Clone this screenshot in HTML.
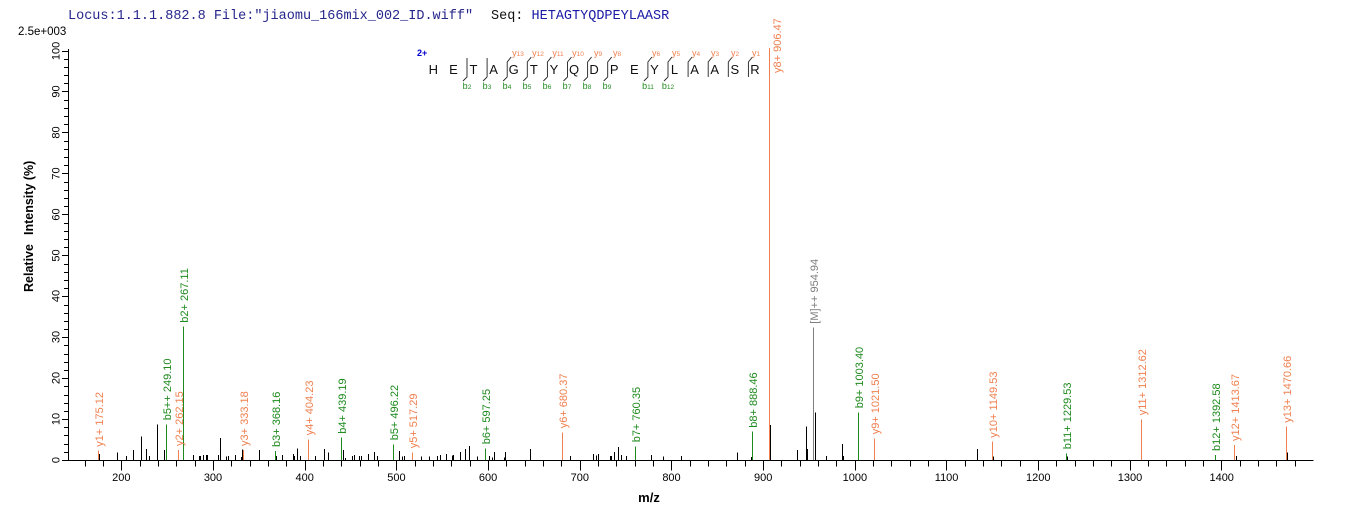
<!DOCTYPE html>
<html>
<head>
<meta charset="utf-8">
<style>
html,body{margin:0;padding:0;background:#fff;}
svg{display:block;}
text{font-family:"Liberation Sans",Arial,sans-serif;}
.mono{font-family:"Liberation Mono","Courier New",monospace;}
.lo{fill:#ef8050;font-size:11px;}
.lg{fill:#1e8a1e;font-size:11px;}
.lk{fill:#7f7f7f;font-size:11px;}
.tk{font-size:11px;fill:#000;}
.seq{font-size:13px;fill:#111;}
.ys{fill:#ef8050;font-size:9px;}
.bs{fill:#1e8a1e;font-size:9px;}
</style>
</head>
<body>
<svg width="1362" height="520" viewBox="0 0 1362 520" xmlns="http://www.w3.org/2000/svg">
<rect width="1362" height="520" fill="#fff"/>

<!-- header -->
<text class="mono" x="68" y="19" font-size="13.5" fill="#26268c">Locus:1.1.1.882.8 File:"jiaomu_166mix_002_ID.wiff"</text>
<text class="mono" x="491" y="19" font-size="13.5" fill="#111">Seq: <tspan fill="#1a1aa6">HETAGTYQDPEYLAASR</tspan></text>
<text x="18" y="35" font-size="11.5" fill="#000">2.5e+003</text>

<!-- axes -->
<path d="M68.5 49V460.5H1313.5" stroke="#000" stroke-width="1" fill="none" shape-rendering="crispEdges"/>

<!-- y ticks -->
<path stroke="#000" stroke-width="1" fill="none" shape-rendering="crispEdges" d="
M62 460.5H68 M64 452.5H68 M64 444.5H68 M64 435.5H68 M64 427.5H68 M62 419.5H68
M64 411.5H68 M64 403.5H68 M64 395.5H68 M64 386.5H68 M62 378.5H68
M64 370.5H68 M64 362.5H68 M64 354.5H68 M64 345.5H68 M62 337.5H68
M64 329.5H68 M64 321.5H68 M64 313.5H68 M64 305.5H68 M62 296.5H68
M64 288.5H68 M64 280.5H68 M64 272.5H68 M64 264.5H68 M62 255.5H68
M64 247.5H68 M64 239.5H68 M64 231.5H68 M64 223.5H68 M62 214.5H68
M64 206.5H68 M64 198.5H68 M64 190.5H68 M64 182.5H68 M62 173.5H68
M64 165.5H68 M64 157.5H68 M64 149.5H68 M64 141.5H68 M62 132.5H68
M64 124.5H68 M64 116.5H68 M64 108.5H68 M64 100.5H68 M62 91.5H68
M64 83.5H68 M64 75.5H68 M64 67.5H68 M64 59.5H68 M62 51.5H68"/>

<!-- y tick labels -->
<g class="tk" text-anchor="middle">
<text transform="translate(59.5,460) rotate(-90)">0</text>
<text transform="translate(59.5,419) rotate(-90)">10</text>
<text transform="translate(59.5,378) rotate(-90)">20</text>
<text transform="translate(59.5,337) rotate(-90)">30</text>
<text transform="translate(59.5,296) rotate(-90)">40</text>
<text transform="translate(59.5,255.5) rotate(-90)">50</text>
<text transform="translate(59.5,214.5) rotate(-90)">60</text>
<text transform="translate(59.5,173.5) rotate(-90)">70</text>
<text transform="translate(59.5,132.5) rotate(-90)">80</text>
<text transform="translate(59.5,91.5) rotate(-90)">90</text>
<text transform="translate(59.5,51) rotate(-90)">100</text>
</g>

<text transform="translate(33,292) rotate(-90)" font-size="12.5" font-weight="bold" fill="#000">Relative</text>
<text transform="translate(33,235) rotate(-90)" font-size="12.5" font-weight="bold" fill="#000">Intensity (%)</text>

<!-- x ticks -->
<path stroke="#000" stroke-width="1" fill="none" shape-rendering="crispEdges" d="
M85.5 460V466.5 M103.5 460V466.5 M121.5 460V470.5 M140.5 460V466.5 M158.5 460V466.5 M176.5 460V466.5 M195.5 460V466.5
M213.5 460V470.5 M231.5 460V466.5 M250.5 460V466.5 M268.5 460V466.5 M286.5 460V466.5
M305.5 460V470.5 M323.5 460V466.5 M341.5 460V466.5 M360.5 460V466.5 M378.5 460V466.5
M396.5 460V470.5 M415.5 460V466.5 M433.5 460V466.5 M451.5 460V466.5 M470.5 460V466.5
M488.5 460V470.5 M506.5 460V466.5 M525.5 460V466.5 M543.5 460V466.5 M561.5 460V466.5
M580.5 460V470.5 M598.5 460V466.5 M616.5 460V466.5 M635.5 460V466.5 M653.5 460V466.5
M671.5 460V470.5 M690.5 460V466.5 M708.5 460V466.5 M726.5 460V466.5 M745.5 460V466.5
M763.5 460V470.5 M781.5 460V466.5 M800.5 460V466.5 M818.5 460V466.5 M836.5 460V466.5
M855.5 460V470.5 M873.5 460V466.5 M891.5 460V466.5 M910.5 460V466.5 M928.5 460V466.5
M946.5 460V470.5 M965.5 460V466.5 M983.5 460V466.5 M1001.5 460V466.5 M1020.5 460V466.5
M1038.5 460V470.5 M1056.5 460V466.5 M1075.5 460V466.5 M1093.5 460V466.5 M1111.5 460V466.5
M1130.5 460V470.5 M1148.5 460V466.5 M1166.5 460V466.5 M1185.5 460V466.5 M1203.5 460V466.5
M1221.5 460V470.5 M1240.5 460V466.5 M1258.5 460V466.5 M1276.5 460V466.5 M1295.5 460V466.5"/>

<g class="tk" text-anchor="middle">
<text x="121.3" y="481">200</text>
<text x="213" y="481">300</text>
<text x="304.7" y="481">400</text>
<text x="396.4" y="481">500</text>
<text x="488.1" y="481">600</text>
<text x="579.8" y="481">700</text>
<text x="671.5" y="481">800</text>
<text x="763.2" y="481">900</text>
<text x="854.9" y="481">1000</text>
<text x="946.6" y="481">1100</text>
<text x="1038.3" y="481">1200</text>
<text x="1130" y="481">1300</text>
<text x="1221.7" y="481">1400</text>
</g>
<text x="649" y="502" text-anchor="middle" font-size="13" font-weight="bold" fill="#000">m/z</text>

<!-- unannotated peaks -->
<path stroke="#000" stroke-width="1" fill="none" shape-rendering="crispEdges" d="
M99.5 460V454 M117.5 460V452.7 M126.5 460V456 M133.5 460V450 M141.5 460V436.7 M146.5 460V449 M149.5 460V456 M157.5 460V424.7 M164.5 460V450
M193.5 460V455 M199.5 460V456 M200.5 460V456 M203.5 460V455 M206.5 460V455 M207.5 460V455 M218.5 460V455 M220.5 460V438 M226.5 460V456.7 M228.5 460V456
M235.5 460V455 M241.5 460V457 M242.5 460V449.3 M259.5 460V450 M276.5 460V456 M282.5 460V455 M293.5 460V454 M294.5 460V456 M297.5 460V448.3 M300.5 460V456
M315.5 460V456 M324.5 460V449 M328.5 460V452.7 M343.5 460V450 M345.5 460V458 M352.5 460V456 M354.5 460V455 M359.5 460V456 M361.5 460V456 M368.5 460V454 M374.5 460V452 M377.5 460V456
M399.5 460V451 M402.5 460V456.7 M404.5 460V456 M421.5 460V456.7 M429.5 460V456.7 M437.5 460V456 M440.5 460V455 M446.5 460V454 M452.5 460V455.7 M453.5 460V455
M460.5 460V452 M465.5 460V449 M469.5 460V446 M477.5 460V456.7 M489.5 460V456 M492.5 460V457.3 M494.5 460V452 M504.5 460V457.3 M505.5 460V452 M530.5 460V449
M570.5 460V456 M593.5 460V454 M596.5 460V455.3 M598.5 460V454 M610.5 460V456 M611.5 460V456 M614.5 460V452 M618.5 460V447 M621.5 460V455 M626.5 460V456
M651.5 460V455 M663.5 460V456.7 M681.5 460V456
M737.5 460V452.7 M751.5 460V457 M770.5 460V425 M797.5 460V450 M806.5 460V426.7 M807.5 460V449 M815.5 460V412.3 M826.5 460V456 M842.5 460V444 M843.5 460V456
M977.5 460V449 M993.5 460V456.7 M1067.5 460V456.7 M1236.5 460V456 M1287.5 460V452.3"/>

<!-- orange (y ions) -->
<path stroke="#ef8050" stroke-width="1" fill="none" shape-rendering="crispEdges" d="
M98.5 460V450.7 M178.5 460V450 M243.5 460V450 M308.5 460V439.3 M412.5 460V452.3 M562.5 460V432.3
M769.5 460V48 M874.5 460V438.3 M992.5 460V441.7 M1141.5 460V419.3 M1234.5 460V445 M1286.5 460V426.7"/>
<!-- green (b ions) -->
<path stroke="#1e8a1e" stroke-width="1" fill="none" shape-rendering="crispEdges" d="
M166.5 460V424.3 M183.5 460V326.7 M275.5 460V451 M341.5 460V437.7 M393.5 460V444.3 M485.5 460V448.3
M635.5 460V446.3 M752.5 460V431.7 M858.5 460V412.3 M1066.5 460V453.3 M1215.5 460V455"/>
<!-- gray -->
<path stroke="#7f7f7f" stroke-width="1" fill="none" shape-rendering="crispEdges" d="M813.5 460V327.7"/>

<!-- peak labels -->
<text class="lo" transform="translate(103,446.7) rotate(-90)">y1+ 175.12</text>
<text class="lg" transform="translate(171,420.3) rotate(-90)">b5++ 249.10</text>
<text class="lo" transform="translate(183,446) rotate(-90)">y2+ 262.15</text>
<text class="lg" transform="translate(188,322.7) rotate(-90)">b2+ 267.11</text>
<text class="lo" transform="translate(248,446) rotate(-90)">y3+ 333.18</text>
<text class="lg" transform="translate(280,447) rotate(-90)">b3+ 368.16</text>
<text class="lo" transform="translate(313,435.3) rotate(-90)">y4+ 404.23</text>
<text class="lg" transform="translate(346,433.7) rotate(-90)">b4+ 439.19</text>
<text class="lg" transform="translate(398,440.3) rotate(-90)">b5+ 496.22</text>
<text class="lo" transform="translate(417,448.3) rotate(-90)">y5+ 517.29</text>
<text class="lg" transform="translate(490,444.3) rotate(-90)">b6+ 597.25</text>
<text class="lo" transform="translate(567,428.3) rotate(-90)">y6+ 680.37</text>
<text class="lg" transform="translate(640,442.3) rotate(-90)">b7+ 760.35</text>
<text class="lg" transform="translate(757,427.7) rotate(-90)">b8+ 888.46</text>
<text class="lo" transform="translate(781,73) rotate(-90)">y8+ 906.47</text>
<text class="lk" transform="translate(818,323.7) rotate(-90)">[M]++ 954.94</text>
<text class="lg" transform="translate(863,408.3) rotate(-90)">b9+ 1003.40</text>
<text class="lo" transform="translate(879,434.3) rotate(-90)">y9+ 1021.50</text>
<text class="lo" transform="translate(997,437.7) rotate(-90)">y10+ 1149.53</text>
<text class="lg" transform="translate(1071,449.3) rotate(-90)">b11+ 1229.53</text>
<text class="lo" transform="translate(1146,415.3) rotate(-90)">y11+ 1312.62</text>
<text class="lg" transform="translate(1220,451) rotate(-90)">b12+ 1392.58</text>
<text class="lo" transform="translate(1239,441) rotate(-90)">y12+ 1413.67</text>
<text class="lo" transform="translate(1291,422.7) rotate(-90)">y13+ 1470.66</text>

<!-- sequence annotation -->
<text x="417" y="56" font-size="9" font-weight="bold" fill="#0000cc">2+</text>
<g class="seq" text-anchor="middle">
<text x="433.3" y="74">H</text>
<text x="453.4" y="74">E</text>
<text x="473.5" y="74">T</text>
<text x="493.6" y="74">A</text>
<text x="513.7" y="74">G</text>
<text x="533.8" y="74">T</text>
<text x="553.9" y="74">Y</text>
<text x="574" y="74">Q</text>
<text x="594.1" y="74">D</text>
<text x="614.2" y="74">P</text>
<text x="634.3" y="74">E</text>
<text x="654.4" y="74">Y</text>
<text x="674.5" y="74">L</text>
<text x="694.6" y="74">A</text>
<text x="714.7" y="74">A</text>
<text x="734.8" y="74">S</text>
<text x="754.9" y="74">R</text>
</g>
<path stroke="#222" stroke-width="0.9" fill="none" d="
M467 58V77L463 81
M487.1 58V77L483.1 81
M511.2 57L507.2 62V77L503.2 81
M531.3 57L527.3 62V77L523.3 81
M551.4 57L547.4 62V77L543.4 81
M571.5 57L567.5 62V77L563.5 81
M591.6 57L587.6 62V77L583.6 81
M611.7 57L607.7 62V77L603.7 81
M651.9 57L647.9 62V77L643.9 81
M672 57L668 62V77L664 81
M692.1 57L688.1 62V77
M712.2 57L708.2 62V77
M732.3 57L728.3 62V77
M752.4 57L748.4 62V77"/>
<g class="ys" text-anchor="middle">
<text x="518" y="56">y<tspan font-size="6.5">13</tspan></text>
<text x="538" y="56">y<tspan font-size="6.5">12</tspan></text>
<text x="558" y="56">y<tspan font-size="6.5">11</tspan></text>
<text x="578" y="56">y<tspan font-size="6.5">10</tspan></text>
<text x="598" y="56">y<tspan font-size="6.5">9</tspan></text>
<text x="617" y="56">y<tspan font-size="6.5">8</tspan></text>
<text x="656" y="56">y<tspan font-size="6.5">6</tspan></text>
<text x="676" y="56">y<tspan font-size="6.5">5</tspan></text>
<text x="696" y="56">y<tspan font-size="6.5">4</tspan></text>
<text x="715" y="56">y<tspan font-size="6.5">3</tspan></text>
<text x="735" y="56">y<tspan font-size="6.5">2</tspan></text>
<text x="756" y="56">y<tspan font-size="6.5">1</tspan></text>
</g>
<g class="bs" text-anchor="middle">
<text x="467" y="89">b<tspan font-size="6.5">2</tspan></text>
<text x="487" y="89">b<tspan font-size="6.5">3</tspan></text>
<text x="507" y="89">b<tspan font-size="6.5">4</tspan></text>
<text x="527" y="89">b<tspan font-size="6.5">5</tspan></text>
<text x="547" y="89">b<tspan font-size="6.5">6</tspan></text>
<text x="567" y="89">b<tspan font-size="6.5">7</tspan></text>
<text x="587" y="89">b<tspan font-size="6.5">8</tspan></text>
<text x="607" y="89">b<tspan font-size="6.5">9</tspan></text>
<text x="648" y="89">b<tspan font-size="6.5">11</tspan></text>
<text x="668" y="89">b<tspan font-size="6.5">12</tspan></text>
</g>
</svg>
</body>
</html>
